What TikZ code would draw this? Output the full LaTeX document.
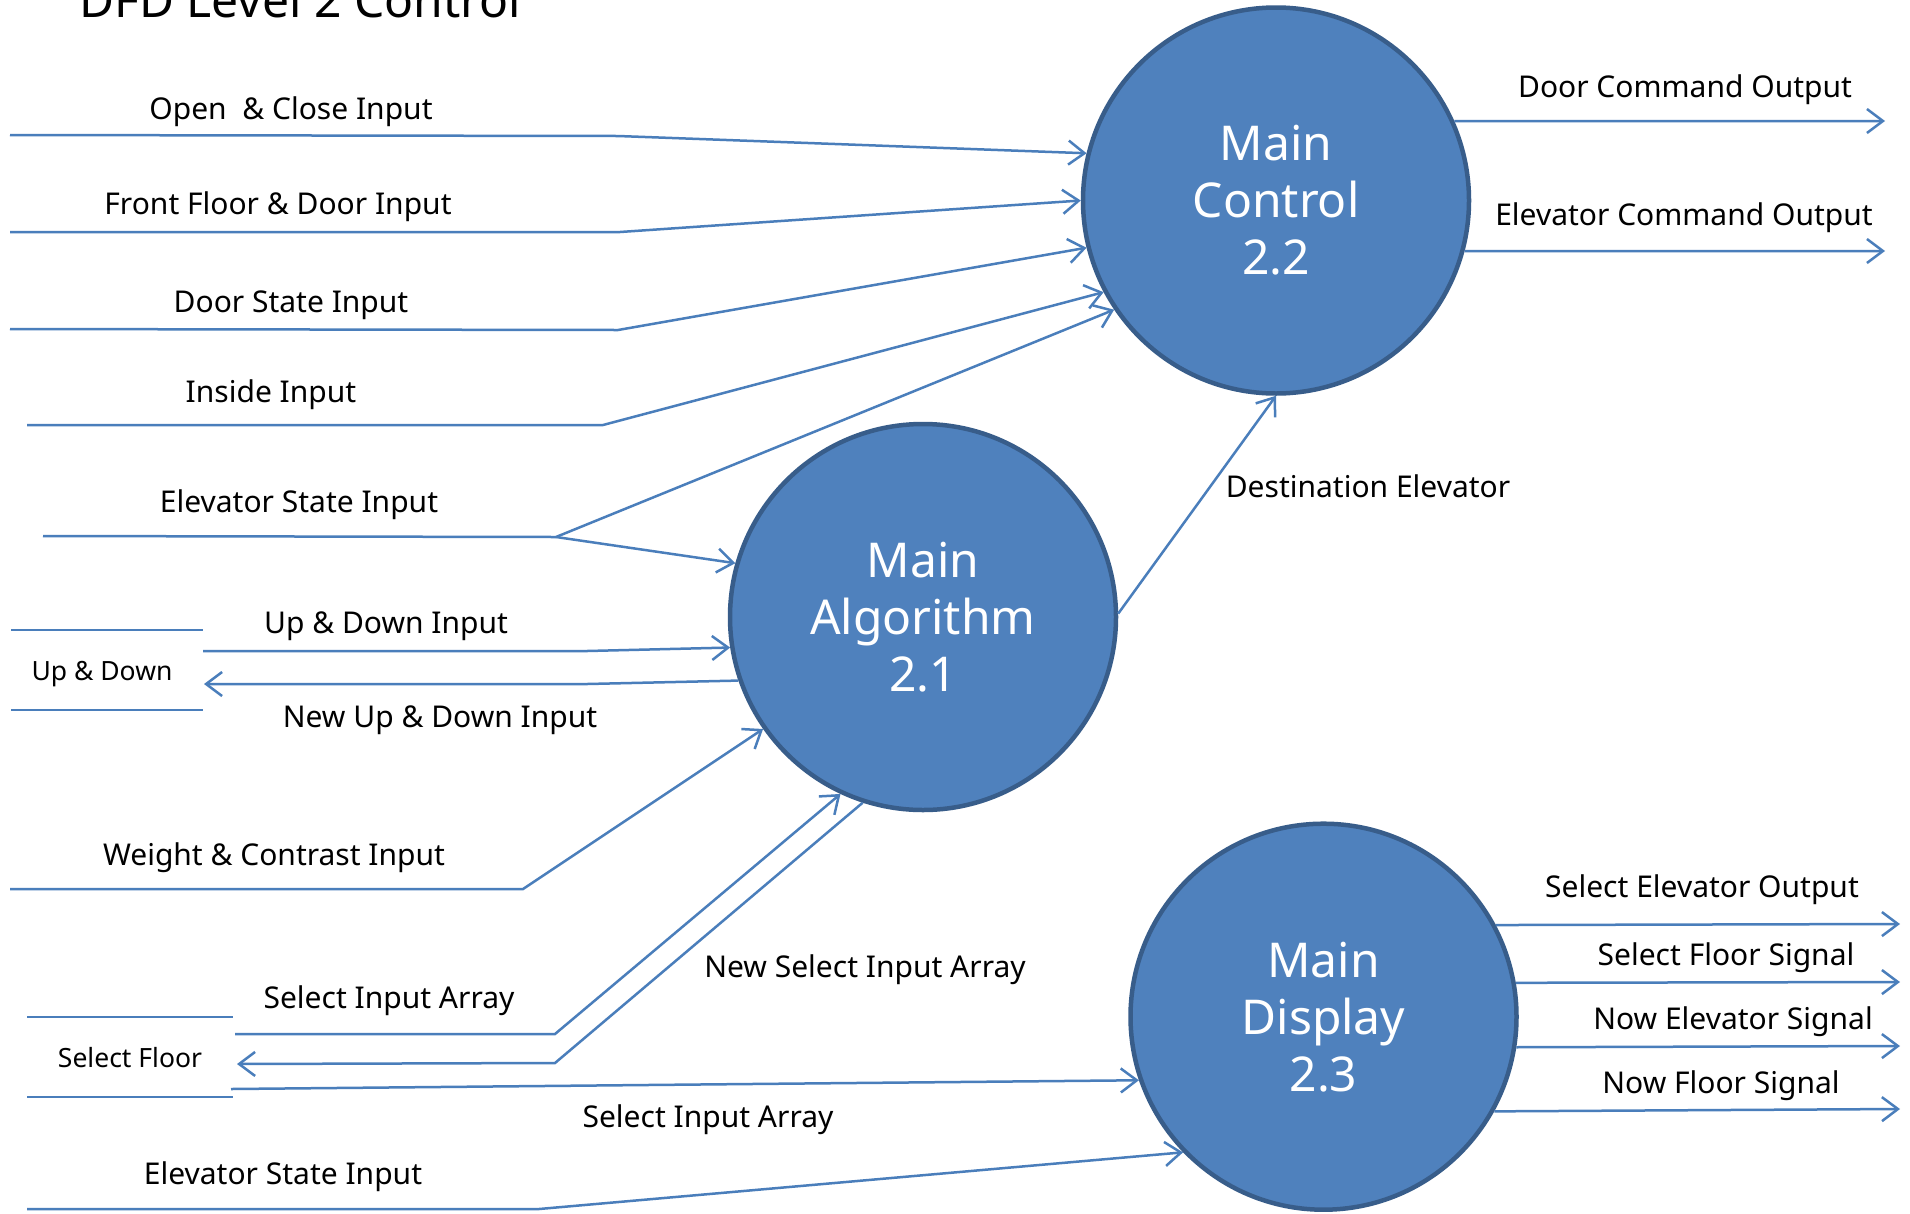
\documentclass[tikz,border=0pt]{standalone}
\usepackage{fontspec}
\setmainfont{Noto Sans}
\usetikzlibrary{arrows.meta}

\definecolor{flowblue}{HTML}{4A7EBB}
\definecolor{procfill}{HTML}{4F81BD}
\definecolor{procedge}{HTML}{385D8A}

\tikzset{
  plain/.style={draw=flowblue, line width=2.5pt},
  flow/.style={plain, -{Straight Barb[length=16pt,width=24pt]}},
  process/.style={circle, fill=procfill, draw=procedge, line width=4.5pt,
    minimum size=386pt, inner sep=0pt, text=white, align=center,
    font=\fontsize{48}{57}\selectfont},
  lbl/.style={anchor=base, inner sep=0pt, font=\fontsize{30}{36}\selectfont},
  storelbl/.style={anchor=base, inner sep=0pt, font=\fontsize{26.5}{31}\selectfont},
  titlelbl/.style={anchor=base west, inner sep=0pt, font=\fontsize{48}{58}\selectfont},
}

\begin{document}
\begin{tikzpicture}[x=1pt, y=-1pt]
\useasboundingbox (0,0) rectangle (1910,1213);
\clip (0,0) rectangle (1910,1213);
\fill[white] (0,0) rectangle (1910,1213);

% title
\node[titlelbl] (title) at (79,17) {DFD Level 2 Control};

% processes
\node[process] (c22) at (1276,200.5) {Main\\Control\\2.2};
\node[process] (c21) at (923,617) {Main\\Algorithm\\2.1};
\node[process] (c23) at (1323.5,1016.7) {Main\\Display\\2.3};

% free ends and bends of the flows
\coordinate (oc0) at (10,135);   \coordinate (oc1) at (618,136);
\coordinate (ff0) at (10,232);   \coordinate (ff1) at (620,232);
\coordinate (ds0) at (10,329);   \coordinate (ds1) at (618,330);
\coordinate (in0) at (27,425);   \coordinate (in1) at (603,425);
\coordinate (es0) at (43,536);   \coordinate (es1) at (556,537);

\coordinate (udA) at (11,630);   \coordinate (udB) at (203,630);
\coordinate (udC) at (11,710);   \coordinate (udD) at (203,710);
\coordinate (udi0) at (203,651); \coordinate (udi1) at (587,651);
\coordinate (nud1) at (587,684); \coordinate (nud0) at (204,684);
\coordinate (wc0) at (10,889);   \coordinate (wc1) at (523,889);

\coordinate (sfA) at (27,1017);  \coordinate (sfB) at (233,1017);
\coordinate (sfC) at (27,1097);  \coordinate (sfD) at (233,1097);
\coordinate (sia0) at (235,1034); \coordinate (sia1) at (555,1034);
\coordinate (nsa1) at (555,1063); \coordinate (nsa0) at (237,1064);
\coordinate (sid0) at (231,1089);
\coordinate (esb0) at (27,1209); \coordinate (esb1) at (539,1209);

\coordinate (dco) at (1885,121);  \coordinate (eco) at (1885,251);
\coordinate (seo) at (1900,924);  \coordinate (sfs) at (1900,982);
\coordinate (nes) at (1900,1046); \coordinate (nfs) at (1900,1109);

% inputs of Main Control
\draw[flow] (oc0) -- (oc1) -- (c22.166);
\draw[flow] (ff0) -- (ff1) -- (c22.180);
\draw[flow] (ds0) -- (ds1) -- (c22.194.3);
\draw[flow] (in0) -- (in1) -- (c22.208.4);
\draw[plain] (es0) -- (es1);
\draw[flow] (es1) -- (c22.214.4);
\draw[flow] (es1) -- (c21.164.6);

% Up & Down store
\draw[plain] (udA) -- (udB);
\draw[plain] (udC) -- (udD);
\draw[flow] (udi0) -- (udi1) -- (c21.189.1);
\draw[flow] (c21.199.5) -- (nud1) -- (nud0);
\draw[flow] (wc0) -- (wc1) -- (c21.215.1);

% Select Floor store
\draw[plain] (sfA) -- (sfB);
\draw[plain] (sfC) -- (sfD);
\draw[flow] (sia0) -- (sia1) -- (c21.245);
\draw[flow] (c21.252.5) -- (nsa1) -- (nsa0);
\draw[flow] (sid0) -- (c23.199);
\draw[flow] (esb0) -- (esb1) -- (c23.224.7);

% between processes
\draw[flow] (c21.1) -- (c22.270);

% outputs
\draw[flow] (c22.24) -- (dco);
\draw[flow] (c22.345) -- (eco);
\draw[flow] (c23.28.4) -- (seo);
\draw[flow] (c23.10.2) -- (sfs);
\draw[flow] (c23.351.4) -- (nes);
\draw[flow] (c23.331.7) -- (nfs);

% flow labels
\node[lbl] (l1) at (291,119) {Open~~\& Close Input};
\node[lbl] (l2) at (278,214) {Front Floor \& Door Input};
\node[lbl] (l3) at (291,312) {Door State Input};
\node[lbl] (l4) at (271,402) {Inside Input};
\node[lbl] (l5) at (299,512) {Elevator State Input};
\node[storelbl] (s1) at (102,680) {Up \& Down};
\node[lbl] (l6) at (386,633) {Up \& Down Input};
\node[lbl] (l7) at (440,727) {New Up \& Down Input};
\node[lbl] (l8) at (274,865) {Weight \& Contrast Input};
\node[storelbl] (s2) at (130,1067) {Select Floor};
\node[lbl] (l9) at (389,1008) {Select Input Array};
\node[lbl] (l10) at (865,977) {New Select Input Array};
\node[lbl] (l11) at (708,1127) {Select Input Array};
\node[lbl] (l12) at (283,1184) {Elevator State Input};
\node[lbl] (l13) at (1368,497) {Destination Elevator};
\node[lbl] (l14) at (1685,97) {Door Command Output};
\node[lbl] (l15) at (1684,225) {Elevator Command Output};
\node[lbl] (l16) at (1702,897) {Select Elevator Output};
\node[lbl] (l17) at (1726,965) {Select Floor Signal};
\node[lbl] (l18) at (1733,1029) {Now Elevator Signal};
\node[lbl] (l19) at (1721,1093) {Now Floor Signal};
\end{tikzpicture}
\end{document}
